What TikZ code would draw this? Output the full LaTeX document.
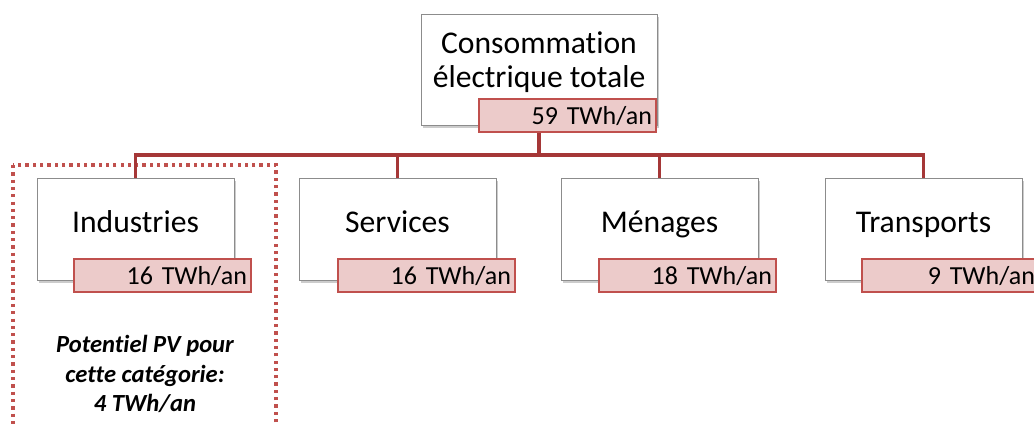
\documentclass[tikz,border=0pt]{standalone}
\usepackage{fontspec}
\setmainfont[Ligatures={NoCommon}]{Carlito}
\usepackage{xcolor}
\usepackage{tikz}
\usetikzlibrary{positioning, calc, shadows}
\definecolor{valred}{RGB}{192,80,77}
\definecolor{linkred}{RGB}{165,55,55}
\tikzstyle{catbox} = [draw=black!45, fill=white, line width=0.6pt, minimum width=4.925cm, minimum height=2.55cm, align=center, text depth=10pt, font=\fontsize{22.5}{24}\selectfont, drop shadow={shadow xshift=1.5pt, shadow yshift=-2pt, fill=black!40}]
\tikzstyle{valbox} = [draw=valred, fill=valred!30!white, line width=1.4pt, minimum width=4.425cm, minimum height=0.825cm, inner xsep=0.1125cm, text width=4.2cm, align=right, anchor=north east, font=\fontsize{18.5}{20}\selectfont]
\tikzstyle{conn} = [draw=linkred, line width=2.8pt]
\tikzstyle{pvframe} = [draw=valred, line width=2.2pt, dash pattern=on 2.3pt off 2.9pt]

\begin{document}
\begin{tikzpicture}[x=0.025cm, y=-0.025cm]
    \useasboundingbox (0,0) rectangle (1034,425);
    \clip (0,0) rectangle (1034,425);
    % frame around the industry branch
    \draw [pvframe] (13,165) rectangle (276,440);

    \node (total) [catbox, minimum width=5.9cm, minimum height=2.775cm, text depth=14pt] at (539,69.5) {Consommation\\électrique totale};
    \node (ind) [catbox] at (135.5,229) {Industries};
    \node (serv) [catbox] at (397.5,229) {Services};
    \node (men) [catbox] at (659.5,229) {Ménages};
    \node (trans) [catbox] at (923.5,229) {Transports};

    \draw [conn] (total.south) -- ++(0,30) -| (ind.north);
    \draw [conn] (total.south) -- ++(0,30) -| (serv.north);
    \draw [conn] (total.south) -- ++(0,30) -| (men.north);
    \draw [conn] (total.south) -- ++(0,30) -| (trans.north);

    \node (totalval) [valbox] at ($(total.south east)+(0,-27)$) {59 TWh/an};
    \node (indval) [valbox] at ($(ind.south east)+(18,-22)$) {16 TWh/an};
    \node (servval) [valbox] at ($(serv.south east)+(20,-22)$) {16 TWh/an};
    \node (menval) [valbox] at ($(men.south east)+(19,-22)$) {18 TWh/an};
    \node (transval) [valbox] at ($(trans.south east)+(18,-22)$) {9 TWh/an};

    \node (pv) [font=\fontsize{17.5}{21}\selectfont\bfseries\itshape, align=center] at (145,374) {Potentiel PV pour\\cette catégorie:\\4 TWh/an};
\end{tikzpicture}
\end{document}
